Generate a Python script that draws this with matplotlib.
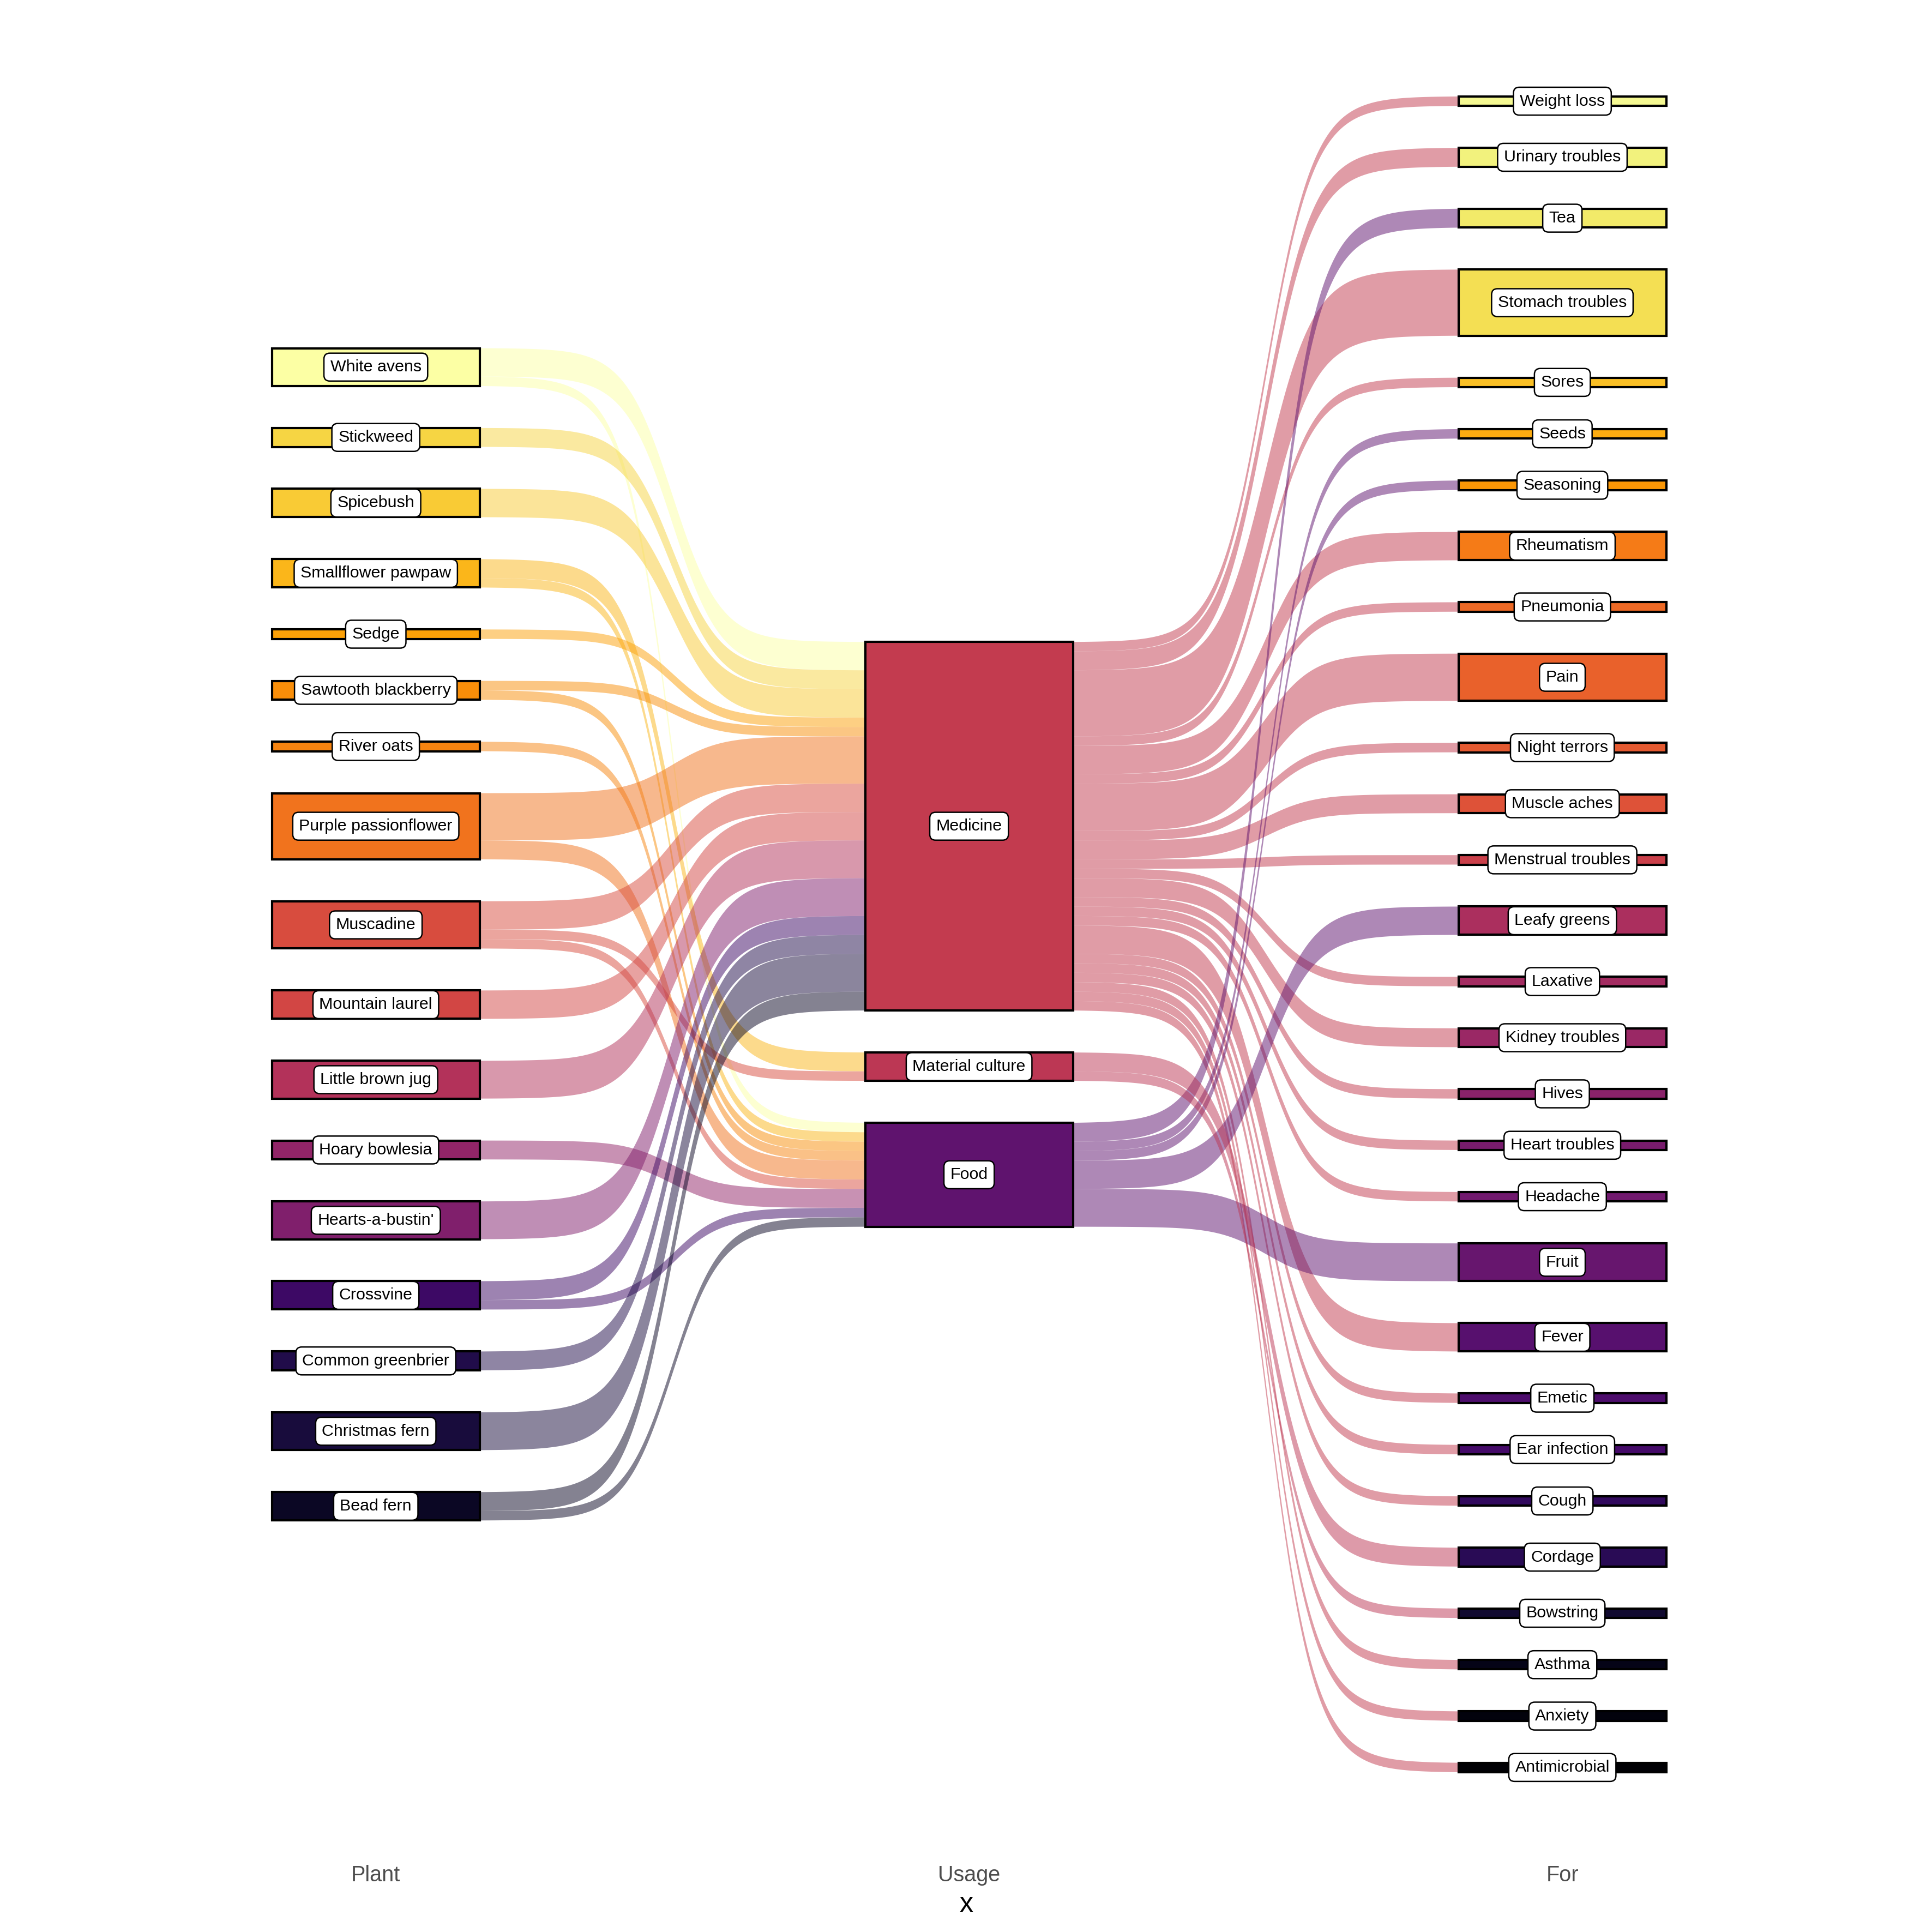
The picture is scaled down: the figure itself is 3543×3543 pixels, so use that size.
import numpy as np
import matplotlib
matplotlib.use("Agg")
import matplotlib.pyplot as plt
from matplotlib.patches import Rectangle, Polygon

# ---------------- data ----------------
stages = ["Plant", "Usage", "For"]

plant_src = ["White avens", "White avens", "Stickweed", "Spicebush",
             "Smallflower pawpaw", "Smallflower pawpaw", "Sedge",
             "Sawtooth blackberry", "Sawtooth blackberry", "River oats",
             "Purple passionflower", "Purple passionflower",
             "Muscadine", "Muscadine", "Muscadine", "Mountain laurel",
             "Little brown jug", "Hoary bowlesia", "Hearts-a-bustin'",
             "Crossvine", "Crossvine", "Common greenbrier", "Christmas fern",
             "Bead fern", "Bead fern"]
plant_tgt = ["Medicine", "Food", "Medicine", "Medicine",
             "Material culture", "Food", "Medicine",
             "Medicine", "Food", "Food",
             "Medicine", "Food",
             "Medicine", "Material culture", "Food", "Medicine",
             "Medicine", "Food", "Medicine",
             "Medicine", "Food", "Medicine", "Medicine",
             "Medicine", "Food"]
plant_val = [3, 1, 2, 3, 2, 1, 1, 1, 1, 1, 5, 2, 3, 1, 1, 3, 4, 2, 4, 2, 1, 2, 4, 2, 1]

usage_src = ["Medicine"] * 22 + ["Food"] * 5 + ["Material culture"] * 2
usage_tgt = ["Weight loss", "Urinary troubles", "Stomach troubles", "Sores",
             "Rheumatism", "Pneumonia", "Pain", "Night terrors", "Muscle aches",
             "Menstrual troubles", "Laxative", "Kidney troubles", "Hives",
             "Heart troubles", "Headache", "Fever", "Emetic", "Ear infection",
             "Cough", "Asthma", "Anxiety", "Antimicrobial",
             "Tea", "Seeds", "Seasoning", "Leafy greens", "Fruit",
             "Cordage", "Bowstring"]
usage_val = [1, 2, 7, 1, 3, 1, 5, 1, 2, 1, 1, 2, 1, 1, 1, 3, 1, 1, 1, 1, 1, 1,
             2, 1, 1, 3, 4,
             2, 1]

# ---------------- style / layout parameters ----------------
NODE_W = 0.35        # node width in x units
GAP = 4.44           # vertical space between nodes (in count units)
SMOOTH = 8
FLOW_ALPHA = 0.5

# pixel calibration (reference drawn at 1568 px)
REF = 1568.0
X1_PX, X3_PX = 305.0, 1268.0
YC_PX, UNIT_PX = 758.3, 7.67

fig = plt.figure(figsize=(3543 / 300, 3543 / 300), dpi=300)
ax_l, ax_r, ax_b, ax_t = 0.02, 0.98, 0.0383, 0.98
ax = fig.add_axes([ax_l, ax_b, ax_r - ax_l, ax_t - ax_b])
px_per_x = (X3_PX - X1_PX) / 2.0
ax.set_xlim(1 + (ax_l * REF - X1_PX) / px_per_x, 1 + (ax_r * REF - X1_PX) / px_per_x)
ax.set_ylim((YC_PX - (1 - ax_b) * REF) / UNIT_PX, (YC_PX - (1 - ax_t) * REF) / UNIT_PX)

# ---------------- colours ----------------
all_nodes = sorted(set(plant_src) | set(plant_tgt) | set(usage_tgt))
cmap = plt.get_cmap("inferno")
cols = cmap(np.linspace(0, 1, len(all_nodes)))
color_of = {n: cols[i] for i, n in enumerate(all_nodes)}

# ---------------- node sizes and positions ----------------
stage_nodes = [sorted(set(plant_src)), sorted(set(plant_tgt)), sorted(set(usage_tgt))]
size = {}
for s, v in zip(plant_src, plant_val):
    size[("Plant", s)] = size.get(("Plant", s), 0) + v
for t, v in zip(plant_tgt, plant_val):
    size[("Usage", t)] = size.get(("Usage", t), 0) + v
for t, v in zip(usage_tgt, usage_val):
    size[("For", t)] = size.get(("For", t), 0) + v

bottom = {}
for si, st in enumerate(stages):
    nodes = stage_nodes[si]
    total = sum(size[(st, n)] for n in nodes) + GAP * (len(nodes) - 1)
    y = -total / 2.0
    for n in nodes:
        bottom[(st, n)] = y
        y += size[(st, n)] + GAP


def sigmoid_flow(x0, x1, yb0, yt0, yb1, yt1, color):
    t = np.linspace(-SMOOTH, SMOOTH, 300)
    s = np.exp(t) / (np.exp(t) + 1)
    s = (s - s[0]) / (s[-1] - s[0])
    xs = x0 + (t + SMOOTH) / (2 * SMOOTH) * (x1 - x0)
    top = yt0 + (yt1 - yt0) * s
    bot = yb0 + (yb1 - yb0) * s
    verts = np.concatenate([np.column_stack([xs, top]),
                            np.column_stack([xs[::-1], bot[::-1]])])
    ax.add_patch(Polygon(verts, closed=True, facecolor=color, edgecolor="none",
                         alpha=FLOW_ALPHA, zorder=1))


def draw_links(src_stage, tgt_stage, srcs, tgts, vals):
    xi_s = stages.index(src_stage) + 1
    xi_t = stages.index(tgt_stage) + 1
    order = stage_nodes[stages.index(src_stage)]
    order_t = stage_nodes[stages.index(tgt_stage)]
    links = list(zip(srcs, tgts, vals))
    out_off = {}
    for n in order:
        y = bottom[(src_stage, n)]
        for s, t, v in sorted([l for l in links if l[0] == n], key=lambda l: order_t.index(l[1])):
            out_off[(s, t)] = y
            y += v
    in_off = {}
    for n in order_t:
        y = bottom[(tgt_stage, n)]
        for s, t, v in sorted([l for l in links if l[1] == n], key=lambda l: order.index(l[0])):
            in_off[(s, t)] = y
            y += v
    for s, t, v in links:
        y0 = out_off[(s, t)]
        y1 = in_off[(s, t)]
        sigmoid_flow(xi_s + NODE_W / 2, xi_t - NODE_W / 2, y0, y0 + v, y1, y1 + v,
                     color_of[s])


draw_links("Plant", "Usage", plant_src, plant_tgt, plant_val)
draw_links("Usage", "For", usage_src, usage_tgt, usage_val)

# ---------------- nodes and labels ----------------
for si, st in enumerate(stages):
    x = si + 1
    for n in stage_nodes[si]:
        b = bottom[(st, n)]
        h = size[(st, n)]
        ax.add_patch(Rectangle((x - NODE_W / 2, b), NODE_W, h, facecolor=color_of[n],
                               edgecolor="black", linewidth=1.0, zorder=2))
        ax.text(x, b + h / 2, n, ha="center", va="center", fontsize=7.3,
                family=["Liberation Sans", "DejaVu Sans"], color="black", zorder=4,
                bbox=dict(boxstyle="round,pad=0.38,rounding_size=0.35", facecolor="white",
                          edgecolor="black", linewidth=0.6))

# ---------------- axes ----------------
ax.set_xticks([1, 2, 3])
ax.set_xticklabels(stages, family=["Liberation Sans", "DejaVu Sans"], fontsize=9.5,
                   color="#4D4D4D")
ax.tick_params(axis="x", length=0, pad=3)
ax.set_yticks([])
for sp in ax.spines.values():
    sp.set_visible(False)
ax.set_xlabel("x", family=["Liberation Sans", "DejaVu Sans"], fontsize=12, labelpad=3)

fig.savefig("out.png", dpi=300, facecolor="white")
